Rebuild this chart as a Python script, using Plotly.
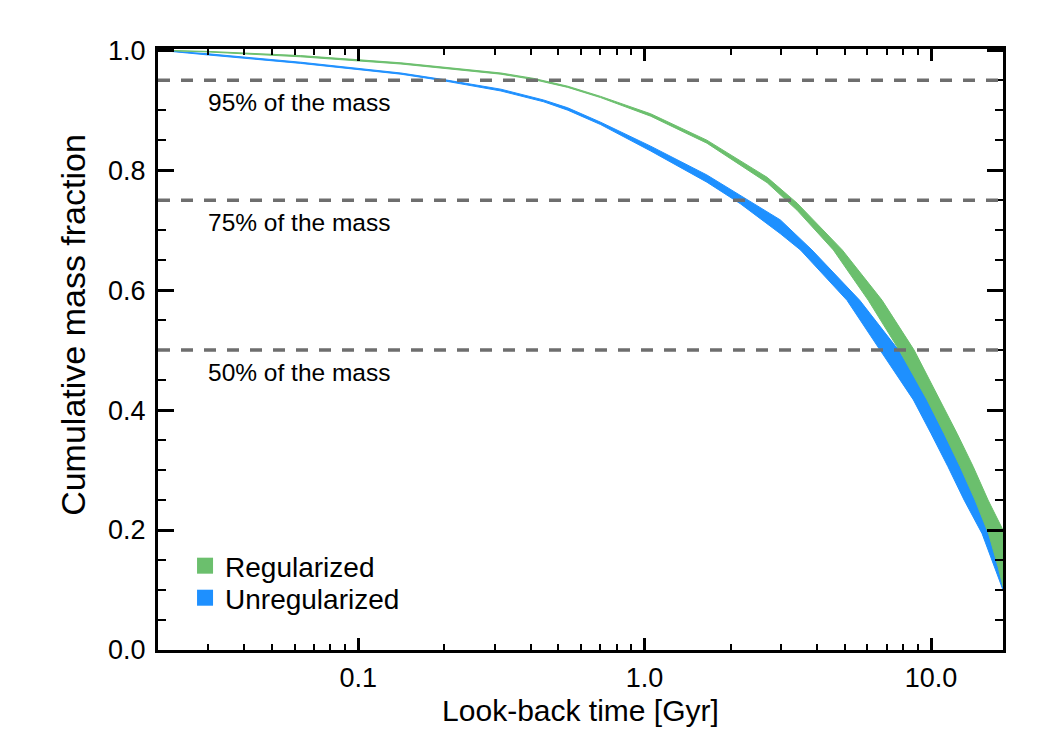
import numpy as np
import plotly.graph_objects as go

# ---------------- data ----------------
# Unregularized (blue) band: lower and upper envelope
blue_lower_t = [0.02, 0.030, 0.063, 0.141, 0.199, 0.315, 0.444, 0.539, 0.702, 1.05, 1.65, 2.16, 2.98,
                3.50, 5.09, 6.64, 8.68, 10.0, 11.45, 13.05, 15.08, 16.60, 17.84]
blue_lower_f = [1.000, 0.992, 0.978, 0.960, 0.949, 0.932, 0.914, 0.900, 0.876, 0.832, 0.780, 0.744, 0.694,
                0.667, 0.583, 0.500, 0.417, 0.361, 0.306, 0.250, 0.194, 0.139, 0.100]
blue_upper_t = [0.02, 0.030, 0.063, 0.141, 0.199, 0.315, 0.444, 0.539, 0.702, 1.05, 1.65, 2.16, 2.98,
                3.84, 5.64, 7.70, 9.93, 11.40, 12.90, 14.60, 16.20, 17.84]
blue_upper_f = [1.000, 0.994, 0.980, 0.962, 0.951, 0.935, 0.917, 0.904, 0.880, 0.840, 0.792, 0.758, 0.717,
                0.667, 0.583, 0.500, 0.417, 0.361, 0.306, 0.250, 0.194, 0.150]

# Regularized (green) band: lower and upper envelope
green_lower_t = [0.02, 0.030, 0.063, 0.141, 0.315, 0.410, 0.539, 0.702, 1.05, 1.65, 2.68, 3.41,
                 4.56, 6.04, 7.74, 9.69, 11.11, 12.63, 14.25, 15.88, 17.14, 17.84]
green_lower_f = [1.000, 0.997, 0.989, 0.977, 0.960, 0.951, 0.938, 0.921, 0.890, 0.845, 0.779, 0.733,
                 0.667, 0.583, 0.500, 0.417, 0.361, 0.306, 0.250, 0.194, 0.139, 0.106]
green_upper_t = [0.02, 0.030, 0.063, 0.141, 0.315, 0.410, 0.539, 0.702, 1.05, 1.65, 2.68, 3.41,
                 4.90, 6.75, 8.73, 10.76, 12.33, 14.03, 15.82, 17.84]
green_upper_f = [1.000, 0.998, 0.991, 0.979, 0.962, 0.953, 0.940, 0.923, 0.894, 0.850, 0.788, 0.745,
                 0.667, 0.583, 0.500, 0.417, 0.361, 0.306, 0.250, 0.200]

series_names = ["Regularized", "Unregularized"]

# reference levels
levels = [0.95, 0.75, 0.50]
level_labels = ["95% of the mass", "75% of the mass", "50% of the mass"]

# axes
x_range = [0.02, 17.84]
x_major = [0.1, 1.0, 10.0]
x_major_text = ["0.1", "1.0", "10.0"]
y_major = [0.0, 0.2, 0.4, 0.6, 0.8, 1.0]
y_major_text = ["0.0", "0.2", "0.4", "0.6", "0.8", "1.0"]

# ---------------- styling ----------------
GREEN = "#6BBF6D"
BLUE = "#1E90FF"
DASH = "#6E6E6E"
FONT = "Liberation Sans, Arial, Helvetica, sans-serif"

x_minor = [m * 10.0 ** e for e in (-2, -1, 0, 1) for m in range(2, 10)
           if x_range[0] <= m * 10.0 ** e <= x_range[1]]

fig = go.Figure()


def band(tu, fu, tl, fl, color):
    return go.Scatter(
        x=list(tu) + list(tl)[::-1],
        y=list(fu) + list(fl)[::-1],
        mode="lines", fill="toself", fillcolor=color,
        line=dict(color=color, width=1),
        showlegend=False, hoverinfo="skip",
    )


fig.add_trace(band(blue_upper_t, blue_upper_f, blue_lower_t, blue_lower_f, BLUE))
fig.add_trace(band(green_upper_t, green_upper_f, green_lower_t, green_lower_f, GREEN))

# legend entries (square markers)
fig.add_trace(go.Scatter(x=[None], y=[None], mode="markers", name=series_names[0],
                         marker=dict(symbol="square", size=16, color=GREEN), legend="legend"))
fig.add_trace(go.Scatter(x=[None], y=[None], mode="markers", name=series_names[1],
                         marker=dict(symbol="square", size=16, color=BLUE), legend="legend2"))

shapes = []
annotations = []
for lv, lab in zip(levels, level_labels):
    shapes.append(dict(type="line", xref="paper", x0=0, x1=1, yref="y", y0=lv, y1=lv,
                       line=dict(color=DASH, width=3.5, dash="12px,11px"), layer="above"))
    annotations.append(dict(x=np.log10(0.0295), y=lv, xref="x", yref="y", text=lab,
                            showarrow=False, xanchor="left", yanchor="middle", yshift=-22,
                            font=dict(size=24.5, color="black", family=FONT)))

# y-axis title (placed as in the reference, slightly above the plot centre)
annotations.append(dict(x=-0.1006, y=0.541, xref="paper", yref="paper",
                        text="Cumulative mass fraction", textangle=-90, showarrow=False,
                        xanchor="center", yanchor="middle",
                        font=dict(size=34, color="black", family=FONT)))

axis_common = dict(
    showline=True, linewidth=3, linecolor="black", mirror="ticks",
    ticks="inside", tickcolor="black", showgrid=False, zeroline=False,
)

fig.update_layout(
    width=1050, height=750,
    margin=dict(l=158, r=47, t=49, b=100),
    paper_bgcolor="white", plot_bgcolor="white",
    font=dict(family=FONT, color="black"),
    xaxis=dict(
        type="log", range=[np.log10(x_range[0]), np.log10(x_range[1])],
        tickvals=x_major, ticktext=x_major_text, ticklen=12, tickwidth=2.5,
        tickfont=dict(size=27, family=FONT, color="black"),
        ticklabelstandoff=2,
        title=dict(text="Look-back time [Gyr]", font=dict(size=30, family=FONT, color="black"),
                   standoff=8),
        minor=dict(tickvals=x_minor, ticks="inside", ticklen=6, tickwidth=2,
                   tickcolor="black", showgrid=False),
        **axis_common,
    ),
    yaxis=dict(
        range=[0, 1.002],
        tickvals=y_major, ticktext=y_major_text, ticklen=16, tickwidth=2.5,
        tickfont=dict(size=27, family=FONT, color="black"),
        ticklabelstandoff=4,
        minor=dict(dtick=0.05, ticks="inside", ticklen=8, tickwidth=2,
                   tickcolor="black", showgrid=False),
        **axis_common,
    ),
    legend=dict(x=0.032, y=0.1398, xanchor="left", yanchor="middle",
                bgcolor="rgba(0,0,0,0)", borderwidth=0,
                font=dict(size=28, family=FONT, color="black")),
    legend2=dict(x=0.032, y=0.0865, xanchor="left", yanchor="middle",
                 bgcolor="rgba(0,0,0,0)", borderwidth=0,
                 font=dict(size=28, family=FONT, color="black")),
    shapes=shapes,
    annotations=annotations,
)

fig.write_html("out.html")
